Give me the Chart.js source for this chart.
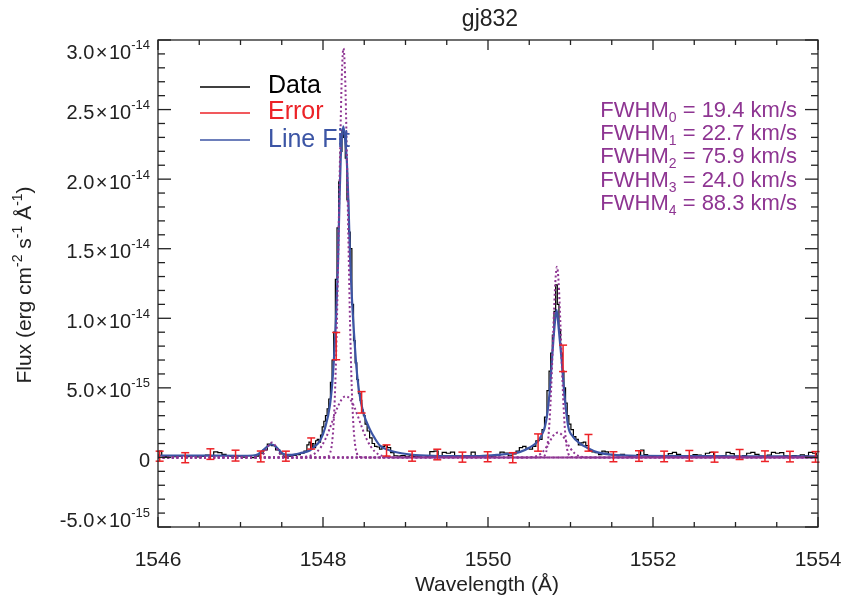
<!DOCTYPE html>
<html>
<head>
<meta charset="utf-8">
<title>gj832</title>
<script src="https://cdn.jsdelivr.net/npm/chart.js@4.4.1/dist/chart.umd.min.js"></script>
<style>
  html, body { margin: 0; padding: 0; background: #fff; }
  #wrap { width: 843px; height: 604px; }
</style>
</head>
<body>
<div id="wrap"><canvas id="specChart" width="843" height="604"></canvas></div>
<script>
// flux values are in units of 1e-15 erg cm^-2 s^-1 A^-1, wavelength in A

// observed spectrum (black, drawn as steps)
const dataSpec = [
  [1546.00,0.15],[1546.03,0.45],[1546.06,0.12],[1546.10,0.08],[1546.15,0.12],[1546.20,0.05],[1546.25,0.10],
  [1546.30,0.14],[1546.35,0.06],[1546.40,0.10],[1546.45,0.12],[1546.50,0.04],[1546.55,0.08],[1546.60,0.16],
  [1546.65,0.10],[1546.70,0.40],[1546.75,0.34],[1546.80,0.22],[1546.85,0.12],[1546.90,0.08],[1546.95,0.14],
  [1547.00,0.10],[1547.05,0.02],[1547.10,0.12],[1547.15,-0.02],[1547.20,0.10],[1547.25,0.30],[1547.30,0.55],
  [1547.35,0.95],[1547.40,0.85],[1547.45,0.55],[1547.50,0.25],[1547.55,0.02],[1547.60,0.10],[1547.65,0.15],
  [1547.70,0.20],[1547.75,0.30],[1547.79,0.45],
  [1547.82,0.90],[1547.84,1.10],[1547.86,0.60],[1547.88,1.00],[1547.90,0.70],[1547.92,1.20],[1547.94,1.30],
  [1547.96,1.10],[1547.98,1.60],[1548.00,2.20],[1548.02,2.60],[1548.04,3.00],[1548.06,3.50],[1548.08,4.20],
  [1548.10,5.40],[1548.12,7.00],[1548.14,9.00],[1548.16,12.8],[1548.18,16.5],[1548.20,19.8],[1548.22,22.0],
  [1548.24,23.5],[1548.26,23.0],[1548.28,21.5],[1548.30,18.5],[1548.32,16.2],[1548.34,15.0],[1548.36,11.0],
  [1548.38,8.4],[1548.40,6.8],[1548.42,5.6],[1548.44,4.6],[1548.46,4.1],[1548.48,3.4],[1548.50,3.0],
  [1548.52,2.4],[1548.55,1.9],[1548.58,1.4],[1548.61,1.0],[1548.64,0.80],[1548.67,0.75],[1548.70,0.60],
  [1548.73,0.80],[1548.76,0.85],[1548.80,0.70],[1548.84,0.35],[1548.88,0.12],[1548.92,0.10],[1548.97,0.14],
  [1549.02,0.08],[1549.07,0.12],[1549.12,0.06],[1549.17,0.10],[1549.22,0.14],[1549.27,0.08],[1549.32,0.42],
  [1549.37,0.45],[1549.42,0.12],[1549.47,0.36],[1549.52,0.30],[1549.57,0.38],[1549.62,0.14],[1549.67,0.08],
  [1549.72,0.10],[1549.77,0.04],[1549.82,0.38],[1549.87,0.12],[1549.92,0.10],[1549.97,0.14],[1550.02,0.06],
  [1550.07,0.10],[1550.12,0.14],[1550.17,0.38],[1550.22,0.32],[1550.27,0.12],[1550.32,0.25],
  [1550.36,0.45],[1550.40,0.70],[1550.44,0.80],[1550.48,0.65],[1550.52,0.60],[1550.56,0.80],[1550.60,1.20],
  [1550.64,1.30],[1550.67,2.00],[1550.70,2.90],[1550.73,4.80],[1550.75,6.20],[1550.77,7.50],[1550.79,8.80],
  [1550.81,10.5],[1550.83,12.4],[1550.85,11.0],[1550.87,9.2],[1550.89,7.5],[1550.91,6.2],[1550.93,5.0],
  [1550.95,3.9],[1550.97,3.0],[1550.99,2.4],[1551.02,2.0],[1551.05,1.5],[1551.08,1.3],[1551.11,0.9],
  [1551.14,1.05],[1551.17,1.1],[1551.20,0.85],[1551.24,0.5],[1551.28,0.4],[1551.32,0.35],[1551.36,0.2],
  [1551.40,0.45],[1551.44,0.40],[1551.48,0.20],[1551.53,0.18],[1551.58,0.12],[1551.63,0.22],[1551.68,0.14],
  [1551.73,0.08],[1551.78,0.12],[1551.83,0.20],[1551.87,0.52],[1551.91,0.20],[1551.96,0.10],[1552.01,0.08],
  [1552.06,0.12],[1552.11,0.06],[1552.16,0.14],[1552.21,0.28],[1552.26,0.36],[1552.31,0.22],[1552.36,0.10],
  [1552.41,0.14],[1552.46,0.08],[1552.51,0.20],[1552.56,0.16],[1552.61,0.10],[1552.66,0.30],[1552.71,0.36],
  [1552.76,0.12],[1552.81,0.08],[1552.86,0.14],[1552.91,0.36],[1552.96,0.28],[1553.01,0.10],[1553.06,0.06],
  [1553.11,0.14],[1553.16,0.30],[1553.21,0.36],[1553.26,0.22],[1553.31,0.10],[1553.36,0.08],[1553.41,0.16],
  [1553.46,0.36],[1553.51,0.30],[1553.56,0.34],[1553.61,0.12],[1553.66,0.06],[1553.71,0.14],[1553.76,0.10],
  [1553.81,0.18],[1553.86,0.12],[1553.91,0.36],[1553.96,0.30],[1554.00,0.12]
];

// total line fit (blue)
const lineFit = [
  [1546.00,0.14],[1546.50,0.13],[1547.00,0.12],[1547.15,0.14],[1547.22,0.25],[1547.28,0.55],[1547.34,0.85],
  [1547.38,0.93],[1547.42,0.82],[1547.48,0.45],[1547.54,0.20],[1547.60,0.18],[1547.66,0.22],[1547.72,0.30],
  [1547.84,0.50],[1547.90,0.80],[1547.964,1.2],[1548.024,2.1],[1548.085,3.8],[1548.121,6.0],[1548.158,10.0],
  [1548.182,14.0],[1548.20,18.5],[1548.215,21.5],[1548.246,23.8],[1548.265,23.0],[1548.287,21.5],[1548.31,18.0],
  [1548.327,14.6],[1548.35,11.5],[1548.376,8.9],[1548.405,6.5],[1548.436,4.8],[1548.485,3.3],[1548.57,2.0],
  [1548.63,1.35],[1548.69,0.85],[1548.81,0.50],[1548.97,0.28],[1549.18,0.15],[1549.50,0.10],[1549.90,0.10],
  [1550.15,0.20],[1550.30,0.30],[1550.39,0.40],[1550.50,0.70],[1550.59,1.07],[1550.65,1.6],[1550.69,2.2],
  [1550.72,3.2],[1550.746,4.6],[1550.775,7.0],[1550.806,9.4],[1550.832,10.6],[1550.855,9.4],[1550.893,7.0],
  [1550.925,4.6],[1550.973,2.2],[1551.03,1.5],[1551.10,1.07],[1551.20,0.70],[1551.33,0.36],[1551.50,0.20],
  [1551.80,0.12],[1552.50,0.10],[1553.00,0.08],[1554.00,0.07]
];

// fit components (purple dotted)
const comp0 = [
  [1546.00,0],[1547.95,0],[1548.058,0.05],[1548.088,0.34],[1548.108,0.96],[1548.128,2.37],[1548.148,5.1],
  [1548.168,9.6],[1548.188,15.7],[1548.208,22.2],[1548.228,27.4],[1548.248,29.4],[1548.268,27.4],[1548.288,22.2],
  [1548.308,15.7],[1548.328,9.6],[1548.348,5.1],[1548.368,2.37],[1548.388,0.96],[1548.408,0.34],[1548.438,0.05],
  [1548.55,0],[1554.00,0]
];
const comp1 = [
  [1546.00,0],[1550.55,0],[1550.666,0.04],[1550.696,0.24],[1550.716,0.70],[1550.736,1.75],[1550.756,3.67],
  [1550.776,6.5],[1550.796,9.85],[1550.816,12.6],[1550.836,13.7],[1550.856,12.6],[1550.876,9.85],[1550.896,6.5],
  [1550.916,3.67],[1550.936,1.75],[1550.956,0.70],[1550.976,0.24],[1551.006,0.04],[1551.12,0],[1554.00,0]
];
const comp2 = [
  [1546.00,0],[1547.68,0],[1547.779,0.04],[1547.879,0.20],[1547.929,0.42],[1547.979,0.78],[1548.029,1.32],
  [1548.079,2.04],[1548.129,2.86],[1548.179,3.63],[1548.229,4.19],[1548.279,4.4],[1548.329,4.19],[1548.379,3.63],
  [1548.429,2.86],[1548.479,2.04],[1548.529,1.32],[1548.579,0.78],[1548.629,0.42],[1548.679,0.20],[1548.779,0.04],
  [1548.88,0],[1554.00,0]
];
const comp3 = [
  [1546.00,0],[1547.18,0],[1547.23,0.04],[1547.26,0.14],[1547.29,0.34],[1547.32,0.64],[1547.35,0.94],
  [1547.38,1.07],[1547.41,0.94],[1547.44,0.64],[1547.47,0.34],[1547.50,0.14],[1547.53,0.04],[1547.58,0],
  [1554.00,0]
];
const comp4 = [
  [1546.00,0],[1550.45,0],[1550.548,0.03],[1550.598,0.11],[1550.648,0.31],[1550.698,0.66],[1550.748,1.15],
  [1550.798,1.61],[1550.848,1.8],[1550.898,1.61],[1550.948,1.15],[1550.998,0.66],[1551.048,0.31],[1551.098,0.11],
  [1551.148,0.03],[1551.25,0],[1554.00,0]
];

// error bars (red)
const errWave = [1546.02,1546.33,1546.635,1546.94,1547.246,1547.55,1547.857,1548.16,1548.468,1548.77,
  1549.08,1549.385,1549.69,1549.996,1550.30,1550.607,1550.91,1551.218,1551.52,1551.83,1552.135,1552.44,
  1552.746,1553.05,1553.357,1553.66,1553.97];
const errFlux = [0.09,-0.02,0.24,0.13,0.07,0.09,1.0,8.0,3.96,0.5,0.09,0.21,0.02,0.05,-0.02,1.07,7.12,1.05,
  0.05,0.1,0.07,0.12,0.02,0.21,0.09,0.06,0.04];
const errSize = [0.36,0.36,0.38,0.39,0.39,0.36,0.40,0.98,0.77,0.40,0.36,0.38,0.36,0.36,0.36,0.62,0.95,0.60,
  0.36,0.38,0.38,0.38,0.36,0.36,0.38,0.38,0.38];

const xTicks = [1546, 1548, 1550, 1552, 1554];
const yTicks = [-5, 0, 5, 10, 15, 20, 25, 30];
const yTickBase = ['-5.0', '0', '5.0', '1.0', '1.5', '2.0', '2.5', '3.0'];
const yTickExp = ['-15', '', '-15', '-14', '-14', '-14', '-14', '-14'];
const legendLabels = ['Data', 'Error', 'Line Fit'];
const fwhmValues = ['19.4', '22.7', '75.9', '24.0', '88.3'];

const BLACK = '#000000';
const RED = '#ec2227';
const BLUE = '#3c55a5';
const PURPLE = '#8e3592';
const FONT = "'Liberation Sans', Arial, Helvetica, sans-serif";

const toXY = pts => pts.map(p => ({ x: p[0], y: p[1] }));
const font = size => size + 'px ' + FONT;

// draws pieces [text, size, dy, gapBefore] one after another
function drawRun(ctx, pieces, x, y, align) {
  let total = 0;
  pieces.forEach(p => {
    ctx.font = font(p[1]);
    total += ctx.measureText(p[0]).width + (p[3] || 0);
  });
  let cx = align === 'right' ? x - total : align === 'center' ? x - total / 2 : x;
  ctx.textAlign = 'left';
  ctx.textBaseline = 'alphabetic';
  pieces.forEach(p => {
    ctx.font = font(p[1]);
    cx += p[3] || 0;
    ctx.fillText(p[0], cx, y + (p[2] || 0));
    cx += ctx.measureText(p[0]).width;
  });
}

function segment(ctx, x1, y1, x2, y2) {
  ctx.beginPath();
  ctx.moveTo(x1, y1);
  ctx.lineTo(x2, y2);
  ctx.stroke();
}

const errorBars = {
  id: 'errorBars',
  afterDatasetsDraw(chart) {
    const { ctx, scales: { x, y } } = chart;
    ctx.save();
    ctx.strokeStyle = RED;
    ctx.lineWidth = 1.5;
    errWave.forEach((w, i) => {
      const px = x.getPixelForValue(w);
      const top = y.getPixelForValue(errFlux[i] + errSize[i]);
      const bot = y.getPixelForValue(errFlux[i] - errSize[i]);
      segment(ctx, px, top, px, bot);
      segment(ctx, px - 4, top, px + 4, top);
      segment(ctx, px - 4, bot, px + 4, bot);
    });
    ctx.restore();
  }
};

const frame = {
  id: 'frame',
  afterDraw(chart) {
    const { ctx, chartArea: a, scales: { x, y } } = chart;
    ctx.save();
    ctx.strokeStyle = '#222';
    ctx.fillStyle = '#222';
    ctx.lineWidth = 1.3;
    ctx.strokeRect(a.left, a.top, a.right - a.left, a.bottom - a.top);

    // inward ticks, all four sides
    for (let v = 1546; v <= 1554.001; v += 0.5) {
      const px = x.getPixelForValue(v);
      const len = Math.abs(v % 2) < 1e-6 ? 10 : 5;
      segment(ctx, px, a.bottom, px, a.bottom - len);
      segment(ctx, px, a.top, px, a.top + len);
    }
    for (let v = -5; v <= 30; v += 1) {
      const py = y.getPixelForValue(v);
      const len = v % 5 === 0 ? 13 : 7;
      segment(ctx, a.left, py, a.left + len, py);
      segment(ctx, a.right, py, a.right - len, py);
    }

    // x tick labels
    ctx.font = font(21);
    ctx.textAlign = 'center';
    xTicks.forEach(v => ctx.fillText(String(v), x.getPixelForValue(v), 566));

    // y tick labels, end labels pulled inside like the original
    yTicks.forEach((v, i) => {
      let by = y.getPixelForValue(v) + 9.5;
      if (i === 0) by -= 9.5;
      if (i === yTicks.length - 1) by += 9;
      if (yTickExp[i]) {
        drawRun(ctx, [[yTickBase[i], 20], ['\u00d7', 20, 0, 1.5], ['10', 20, 0, 1.5], [yTickExp[i], 13, -10]], 150, by, 'right');
      } else {
        drawRun(ctx, [[yTickBase[i], 20]], 150, by, 'right');
      }
    });

    // titles
    drawRun(ctx, [['gj832', 23]], 490, 26, 'center');
    drawRun(ctx, [['Wavelength (\u00c5)', 21]], 487, 591, 'center');
    ctx.save();
    ctx.translate(31, 285);
    ctx.rotate(-Math.PI / 2);
    drawRun(ctx, [['Flux (erg cm', 21], ['-2', 14, -9], [' s', 21], ['-1', 14, -9], [' \u00c5', 21], ['-1', 14, -9], [')', 21]], 0, 0, 'center');
    ctx.restore();

    // legend
    const legendColors = [BLACK, RED, BLUE];
    const lineY = [87, 113, 140];
    const textY = [93, 119, 146.5];
    legendLabels.forEach((lab, i) => {
      ctx.strokeStyle = legendColors[i];
      ctx.lineWidth = 1.5;
      segment(ctx, 200, lineY[i], 250, lineY[i]);
      ctx.fillStyle = legendColors[i];
      drawRun(ctx, [[lab, 25]], 268, textY[i], 'left');
    });

    // FWHM annotations
    ctx.fillStyle = PURPLE;
    fwhmValues.forEach((val, i) => {
      drawRun(ctx, [['FWHM', 22], [String(i), 14, 5], [' = ' + val + ' km/s', 22]], 797, 116.7 + i * 23.3, 'right');
    });
    ctx.restore();
  }
};

const dotted = pts => ({
  data: toXY(pts),
  borderColor: PURPLE,
  borderWidth: 2,
  borderDash: [2, 2.6],
  pointRadius: 0,
  cubicInterpolationMode: 'monotone',
  order: 0
});

new Chart(document.getElementById('specChart'), {
  type: 'line',
  data: {
    datasets: [
      dotted(comp0), dotted(comp1), dotted(comp2), dotted(comp3), dotted(comp4),
      {
        label: 'Line Fit',
        data: toXY(lineFit),
        borderColor: BLUE,
        borderWidth: 2.2,
        pointRadius: 0,
        cubicInterpolationMode: 'monotone',
        order: 1
      },
      {
        label: 'Data',
        data: toXY(dataSpec),
        borderColor: BLACK,
        borderWidth: 1.2,
        pointRadius: 0,
        stepped: 'middle',
        order: 2
      }
    ]
  },
  options: {
    responsive: false,
    devicePixelRatio: 1,
    animation: false,
    layout: { padding: { left: 158, top: 40, right: 25, bottom: 77 } },
    plugins: { legend: { display: false }, tooltip: { enabled: false } },
    scales: {
      x: { type: 'linear', min: 1546, max: 1554, display: false },
      y: { type: 'linear', min: -5, max: 30, display: false }
    }
  },
  plugins: [errorBars, frame]
});
</script>
</body>
</html>
